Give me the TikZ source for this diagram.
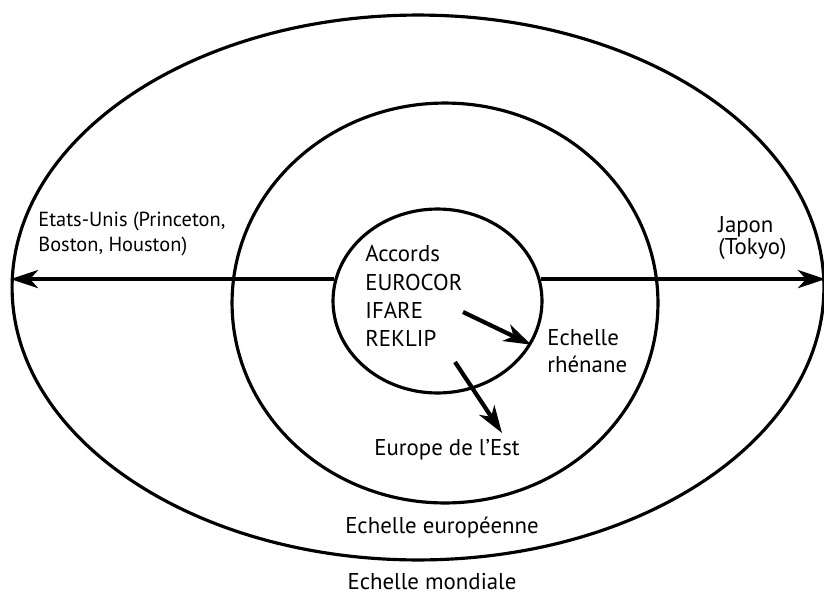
\documentclass[tikz,border=0pt]{standalone}
\usepackage{fontspec}
\setmainfont{PT Sans}
\usepackage{tikz}
\usetikzlibrary{arrows.meta,shapes.geometric}
\tikzstyle{zone}=[draw=black, ellipse, line width=1.8pt, inner sep=0pt]
\tikzstyle{arrow}=[draw=black, line width=2.4pt, -{Stealth[length=5.5mm, width=3.6mm, inset=1.6mm]}]
\tikzstyle{txt}=[font=\fontsize{13}{14}\selectfont, align=left, inner sep=0pt]

\begin{document}
\begin{tikzpicture}[x=0.02cm, y=-0.02cm]
		   \useasboundingbox (0,0) rectangle (824,595);
		   \node[zone, minimum width=16.24cm, minimum height=10.9cm] (m) at (418,287.5) {};
		   \node[zone, minimum width=8.52cm, minimum height=8cm] (e) at (445,303) {};
		   \node[zone, minimum width=4.18cm, minimum height=3.68cm] (r) at (437.5,301) {};
		   \node[txt, anchor=west, font=\fontsize{11.6}{14}\selectfont] (u) at (38,234) {Etats-Unis (Princeton,\\Boston, Houston)};
		   \node[txt, anchor=west, font=\fontsize{13}{13}\selectfont] (j) at (718,238) {Japon\\(Tokyo)};
		   \node[txt, anchor=west, font=\fontsize{13}{16}\selectfont] (a) at (365,296) {Accords\\EUROCOR\\IFARE\\REKLIP};
		   \node[txt, anchor=west, font=\fontsize{13}{15.5}\selectfont] (h) at (547,351) {Echelle\\rhénane};
		   \node[txt] (est) at (447,450) {Europe de l'Est};
		   \node[txt] (le) at (442,528) {Echelle européenne};
		   \node[txt] (lm) at (432,582) {Echelle mondiale};
		   \coordinate (p) at (463,312);
		   \coordinate (q1) at (455,362);
		   \coordinate (q2) at (502,433);
		   \draw[arrow] (r.168) -- (r.168 -| m.west);
		   \draw[arrow] (r.12) -- (r.12 -| m.east);
		   \draw[arrow] (p) -- (r.-25);
		   \draw[arrow] (q1) -- (q2);
	   \end{tikzpicture}
\end{document}
